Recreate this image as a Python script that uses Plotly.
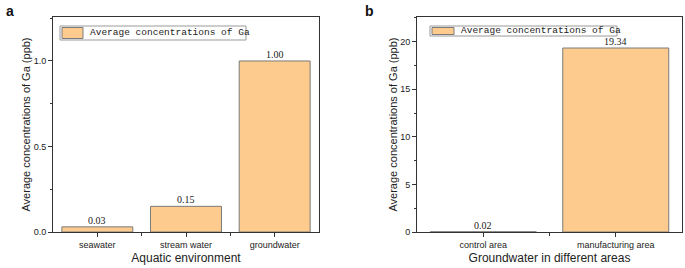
import plotly.graph_objects as go

# ---- data ----
cats_a = ["seawater", "stream water", "groundwater"]
vals_a = [0.03, 0.15, 1.00]
labels_a = ["0.03", "0.15", "1.00"]

cats_b = ["control area", "manufacturing area"]
vals_b = [0.02, 19.34]
labels_b = ["0.02", "19.34"]

series_name = "Average concentrations of Ga"
ytitle = "Average concentrations of Ga (ppb)"
xtitle_a = "Aquatic environment"
xtitle_b = "Groundwater in different areas"

W, H = 685, 268
FILL = "#FECB8F"
EDGE = "#7a7a7a"
AX = "#333333"

def px_x(p):
    return p / W

def px_y(p):
    return (H - p) / H

fig = go.Figure()

idx_a = list(range(len(cats_a)))
idx_b = list(range(len(cats_b)))

fig.add_trace(go.Bar(
    x=idx_a, y=vals_a,
    marker=dict(color=FILL, line=dict(color=EDGE, width=1)),
    width=0.8, name=series_name, xaxis="x", yaxis="y",
))
fig.add_trace(go.Bar(
    x=idx_b, y=vals_b,
    marker=dict(color=FILL, line=dict(color=EDGE, width=1)),
    width=0.8, name=series_name, xaxis="x2", yaxis="y2",
))

tickfont = dict(family="Liberation Sans", size=9, color="#222")
xtitlefont = dict(family="Liberation Sans", size=12, color="#222")
ytitlefont = dict(family="Liberation Sans", size=11, color="#222")

def xaxis(domain, idx, cats, title, anchor):
    mids = [i + 0.5 for i in idx[:-1]]
    return dict(
        domain=domain, anchor=anchor, range=[-0.5, len(cats) - 0.5],
        automargin=False,
        tickmode="array", tickvals=idx, ticktext=cats,
        ticks="outside", ticklen=4, tickcolor=AX, tickwidth=1,
        minor=dict(tickmode="array", tickvals=mids, ticks="outside",
                   ticklen=3, tickcolor=AX, tickwidth=1),
        showline=True, linecolor=AX, linewidth=1, mirror=True,
        showgrid=False, zeroline=False, tickfont=tickfont,
        title=dict(text=title, font=xtitlefont, standoff=4),
    )

def yaxis(domain, rng, dtick, fmt, anchor):
    return dict(
        domain=domain, anchor=anchor, range=rng, dtick=dtick, tick0=0,
        tickformat=fmt, automargin=False,
        ticks="outside", ticklen=4, tickcolor=AX, tickwidth=1,
        minor=dict(dtick=dtick / 2, tick0=0, ticks="outside", ticklen=2,
                   tickcolor=AX, tickwidth=1),
        showline=True, linecolor=AX, linewidth=1, mirror=True,
        showgrid=False, zeroline=False, tickfont=tickfont,
        title=dict(text=ytitle, font=ytitlefont, standoff=0),
    )

annotations = []
# value labels, positioned through each panel's data axes
for xr, yr, idx, vals, labels in (("x", "y", idx_a, vals_a, labels_a),
                                  ("x2", "y2", idx_b, vals_b, labels_b)):
    for i, v, t in zip(idx, vals, labels):
        annotations.append(dict(text=t, x=i, y=v, xref=xr, yref=yr,
                                xanchor="center", yanchor="bottom", yshift=-1,
                                showarrow=False,
                                font=dict(family="Liberation Serif", size=10,
                                          color="#222")))

# legend boxes in paper pixels: (box x0, x1, box y1, swatch x0, x1, text x)
legend_boxes = [(60, 246, 40, 62, 83, 88), (430, 617, 36, 432, 454, 459)]
shapes = []
for bx0, bx1, by1, sx0, sx1, tx in legend_boxes:
    shapes.append(dict(type="rect", xref="paper", yref="paper",
                       x0=px_x(bx0), x1=px_x(bx1), y0=px_y(by1), y1=px_y(26),
                       line=dict(color="#9a9a9a", width=1), fillcolor="white",
                       layer="below"))
    shapes.append(dict(type="rect", xref="paper", yref="paper",
                       x0=px_x(sx0), x1=px_x(sx1), y0=px_y(by1 - 1.5), y1=px_y(27.5),
                       line=dict(color=EDGE, width=1), fillcolor=FILL,
                       layer="below"))
    annotations.append(dict(text=series_name, x=px_x(tx), y=px_y((26 + by1) / 2),
                            xref="paper", yref="paper", xanchor="left",
                            yanchor="middle", showarrow=False,
                            font=dict(family="Liberation Mono", size=9.5,
                                      color="#222")))

annotations += [
    dict(text="<b>a</b>", x=px_x(4), y=px_y(1), xref="paper", yref="paper",
         xanchor="left", yanchor="top", showarrow=False,
         font=dict(family="Liberation Sans", size=14, color="#111")),
    dict(text="<b>b</b>", x=px_x(363), y=px_y(1), xref="paper", yref="paper",
         xanchor="left", yanchor="top", showarrow=False,
         font=dict(family="Liberation Sans", size=14, color="#111")),
]

ydom = [px_y(232), px_y(17)]
fig.update_layout(
    width=W, height=H,
    margin=dict(l=0, r=0, t=0, b=0),
    paper_bgcolor="white", plot_bgcolor="rgba(0,0,0,0)",
    xaxis=xaxis([px_x(53), px_x(319)], idx_a, cats_a, xtitle_a, "y"),
    yaxis=yaxis(ydom, [0, 1.257], 0.5, ".1f", "x"),
    xaxis2=xaxis([px_x(417), px_x(682)], idx_b, cats_b, xtitle_b, "y2"),
    yaxis2=yaxis(ydom, [0, 22.6], 5, "d", "x2"),
    showlegend=False,
    shapes=shapes,
    annotations=annotations,
)

fig.write_html("out.html", config={"displayModeBar": False},
               post_script="document.body.style.margin='0';"
                           "document.body.style.overflow='hidden';")
